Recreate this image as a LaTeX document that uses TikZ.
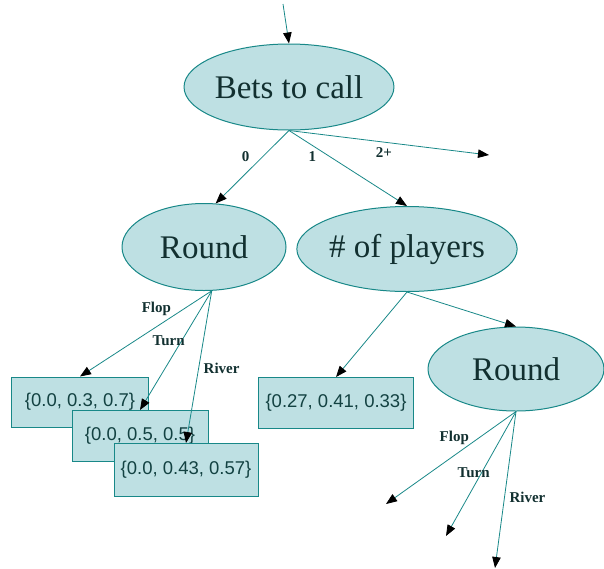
\documentclass[tikz,border=0pt]{standalone}
\usepackage{fontspec}
\setmainfont{Liberation Serif}
\setsansfont{Liberation Sans}
\usetikzlibrary{arrows.meta, shapes.geometric}
\definecolor{nodefill}{RGB}{190,224,227}
\definecolor{edgeteal}{RGB}{24,136,136}
\definecolor{textdark}{RGB}{18,48,48}
\tikzset{
  test/.style={ellipse, draw=edgeteal, fill=nodefill, line width=1pt, inner sep=0pt,
    text=textdark, font=\fontsize{33}{36}\selectfont},
  leaf/.style={rectangle, draw=edgeteal, fill=nodefill, line width=1pt, inner sep=0pt,
    text=textdark!80!edgeteal, font=\sffamily\fontsize{18.5}{21}\selectfont},
  edge/.style={draw=edgeteal, line width=0.8pt, -{Triangle[length=11pt, width=8.5pt, color=black]}},
  elabel/.style={font=\bfseries\fontsize{15}{17}\selectfont, text=textdark, inner sep=1pt}
}
\begin{document}
\begin{tikzpicture}[x=1pt, y=-1pt]
\useasboundingbox (0,0) rectangle (604,568);
\node[test, minimum width=180pt, minimum height=86pt] (bets) at (289,87) {Bets to call};
\node[test, minimum width=164pt, minimum height=87pt] (roundA) at (204,247) {Round};
\node[test, minimum width=179pt, minimum height=85pt] (players) at (407,249) {\# of players};
\node[test, minimum width=176pt, minimum height=84pt] (roundB) at (516,369) {Round};
\node[leaf, minimum width=137pt, minimum height=50pt] (flopA) at (80,402) {\{0.0, 0.3, 0.7\}};
\node[leaf, minimum width=136pt, minimum height=51pt] (turnA) at (140,436) {\{0.0, 0.5, 0.5\}};
\node[leaf, minimum width=144pt, minimum height=53pt] (riverA) at (186,470) {\{0.0, 0.43, 0.57\}};
\node[leaf, minimum width=155pt, minimum height=51pt] (dist) at (336,403) {\{0.27, 0.41, 0.33\}};
\coordinate (start) at (283,4);
\coordinate (raise) at (489,155);
\coordinate (flopB) at (386,504);
\coordinate (turnB) at (446,536);
\coordinate (riverB) at (495,568);
\draw[edge] (start) -- (bets.north);
\draw[edge] (bets.south) -- node[elabel, pos=.36, xshift=-17pt] {0} (roundA.75);
\draw[edge] (bets.south) -- node[elabel, pos=.35, xshift=-18pt] {1} (players.north);
\draw[edge] (bets.south) -- node[elabel, pos=.475, yshift=-10pt] {2+} (raise);
\draw[edge] (roundA.-80) -- node[elabel, pos=.42, yshift=18pt] {Flop} (flopA.north);
\draw[edge] (roundA.-80) -- node[elabel, pos=.42, xshift=-13pt] {Turn} (turnA.north);
\draw[edge] (roundA.-80) -- node[elabel, pos=.51, xshift=23pt] {River} (riverA.north);
\draw[edge] (players.south) -- (dist.north);
\draw[edge] (players.south) -- (roundB.north);
\draw[edge] (roundB.south) -- node[elabel, pos=.29, xshift=-24pt] {Flop} (flopB);
\draw[edge] (roundB.south) -- node[elabel, pos=.49, xshift=-8pt] {Turn} (turnB);
\draw[edge] (roundB.south) -- node[elabel, pos=.55, xshift=23pt] {River} (riverB);
\end{tikzpicture}
\end{document}
